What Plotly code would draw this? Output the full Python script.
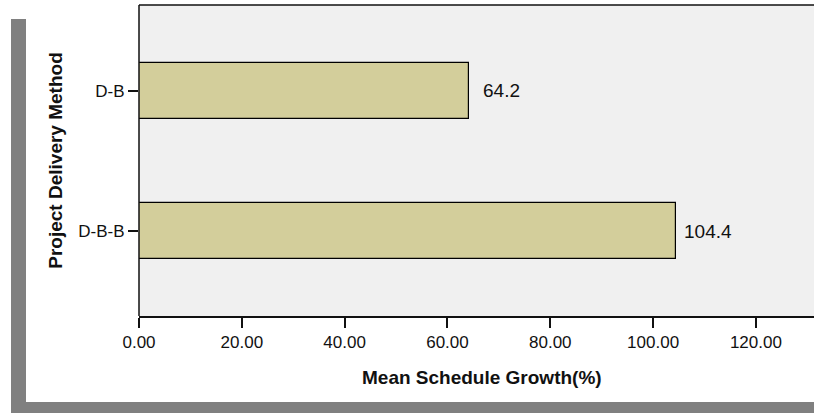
import plotly.graph_objects as go

# Mean schedule growth by project delivery method
methods = ["D-B-B", "D-B"]
mean_growth = [104.4, 64.2]
x_ticks = [0, 20, 40, 60, 80, 100, 120]
x_tick_labels = ["0.00", "20.00", "40.00", "60.00", "80.00", "100.00", "120.00"]

W, H = 814, 413
L, R, T, B = 139, 0, 5, 97
plot_w = W - L - R
plot_h = H - T - B


def paper_x(px):
    return (px - L) / plot_w


def paper_y(py):
    return (H - B - py) / plot_h


FONT = "Liberation Sans, Arial, sans-serif"
INK = "#111111"

fig = go.Figure()
fig.add_trace(go.Bar(
    x=mean_growth,
    y=methods,
    orientation="h",
    width=0.4,
    marker=dict(color="#d3ce9b", line=dict(color="#000000", width=1.2)),
    hoverinfo="skip",
))

# value labels to the right of each bar
for v, m in zip(mean_growth, methods):
    fig.add_annotation(
        x=v, y=m, xref="x", yref="y",
        text=f"{v:.1f}", showarrow=False,
        xanchor="center", yanchor="middle", xshift=32,
        font=dict(family=FONT, size=19, color=INK),
    )

# x axis title, centred under the full axis length
fig.add_annotation(
    x=paper_x(482), y=paper_y(377), xref="paper", yref="paper",
    text="<b>Mean Schedule Growth(%)</b>", showarrow=False,
    xanchor="center", yanchor="middle",
    font=dict(family=FONT, size=19, color=INK),
)

# plot frame: left and top edges only (the axis runs off to the right)
fig.add_shape(type="line", xref="paper", yref="paper",
              x0=0, x1=1.01, y0=1, y1=1,
              line=dict(color=INK, width=1.5))
fig.add_shape(type="line", xref="paper", yref="paper",
              x0=0, x1=0, y0=0, y1=1,
              line=dict(color=INK, width=1.5))

# grey drop-shadow frame around the chart
grey = "#808080"
fig.add_shape(type="rect", xref="paper", yref="paper",
              x0=paper_x(11), x1=paper_x(26), y0=paper_y(413), y1=paper_y(19),
              fillcolor=grey, line=dict(width=0), layer="below")
fig.add_shape(type="rect", xref="paper", yref="paper",
              x0=paper_x(11), x1=paper_x(820), y0=paper_y(413), y1=paper_y(402),
              fillcolor=grey, line=dict(width=0), layer="below")

fig.update_layout(
    width=W, height=H,
    margin=dict(l=L, r=R, t=T, b=B, pad=0),
    paper_bgcolor="#ffffff",
    plot_bgcolor="#f0f0f0",
    showlegend=False,
    font=dict(family=FONT, color=INK),
    bargap=0,
)
fig.update_xaxes(
    range=[0, 131.3],
    tickmode="array", tickvals=x_ticks, ticktext=x_tick_labels,
    ticks="outside", ticklen=10, tickwidth=1.5, tickcolor=INK,
    tickfont=dict(family=FONT, size=17, color=INK),
    showgrid=False, zeroline=False,
    showline=True, linecolor=INK, linewidth=1.5,
    fixedrange=True,
)
fig.update_yaxes(
    type="category", categoryorder="array", categoryarray=methods,
    range=[-0.607, 1.614],
    ticks="outside", ticklen=10, tickwidth=1.5, tickcolor=INK,
    tickfont=dict(family=FONT, size=17, color=INK),
    ticklabelstandoff=0,
    showgrid=False, zeroline=False,
    showline=False,
    title=dict(text="<b>Project Delivery Method</b>",
               font=dict(family=FONT, size=19, color=INK), standoff=10),
    fixedrange=True,
)

fig.write_html("out.html", config={"displayModeBar": False})
